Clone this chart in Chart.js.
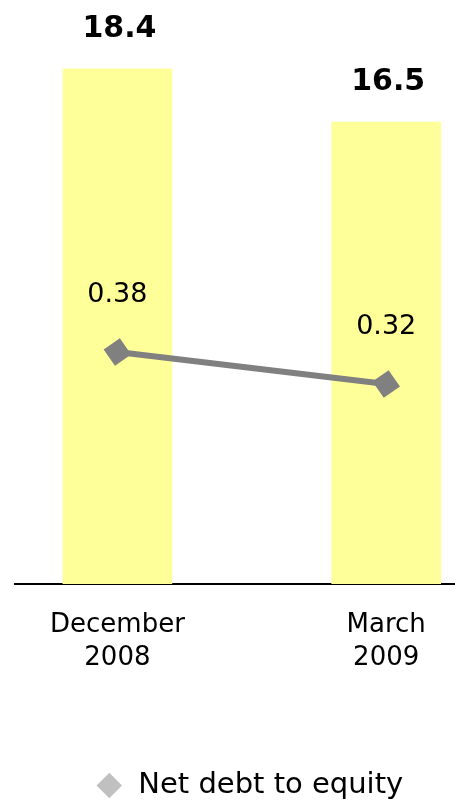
<!DOCTYPE html>
<html>
<head>
<meta charset="utf-8">
<script src="https://cdn.jsdelivr.net/npm/chart.js@4/dist/chart.umd.min.js"></script>
<style>
  html, body { margin: 0; padding: 0; background: #fff; }
  #wrap { width: 455px; height: 801px; }
</style>
</head>
<body>
<div id="wrap"><canvas id="chart"></canvas></div>
<script>
// Categories (two-line tick labels)
const categories = [['December', '2008'], ['March', '2009']];
// Bar series (values above bars)
const barValues = [18.4, 16.5];
// Line series
const lineLabel = 'Net debt to equity';
const lineValues = [0.38, 0.32];

const FONT = '"DejaVu Sans", Verdana, sans-serif';

// simple value labels drawn from element positions
const valueLabels = {
    id: 'valueLabels',
    afterDatasetsDraw(chart) {
        const ctx = chart.ctx;
        ctx.save();
        ctx.fillStyle = '#000';
        ctx.textAlign = 'center';
        ctx.textBaseline = 'alphabetic';
        chart.data.datasets.forEach((ds, i) => {
            const meta = chart.getDatasetMeta(i);
            meta.data.forEach((el, j) => {
                const v = ds.data[j].y;
                if (ds.type === 'bar') {
                    ctx.font = 'bold 30px ' + FONT;
                    ctx.fillText(v.toFixed(1), el.x + 2, el.y - 32);
                } else {
                    ctx.font = '27px ' + FONT;
                    ctx.fillText(v.toFixed(2), el.x, el.y - 50);
                }
            });
        });
        ctx.restore();
    }
};

// nudge the legend a little to the right, like the original
const legendShift = {
    id: 'legendShift',
    afterLayout(chart) {
        chart.legend.left += 14;
        chart.legend.right += 14;
    }
};

const ctx = document.getElementById('chart').getContext('2d');
const chart = new Chart(ctx, {
    data: {
        datasets: [{
            type: 'line',
            label: lineLabel,
            data: lineValues.map((v, i) => ({ x: i, y: v })),
            yAxisID: 'y1',
            borderColor: '#808080',
            backgroundColor: '#808080',
            borderWidth: 6,
            pointStyle: 'rectRot',
            pointRadius: 14,
            pointRotation: 10,
            pointBorderWidth: 0,
            pointBackgroundColor: '#808080',
            order: 0
        }, {
            type: 'bar',
            label: 'Bars',
            data: barValues.map((v, i) => ({ x: i, y: v })),
            yAxisID: 'y',
            backgroundColor: '#FFFF99',
            borderWidth: 0,
            barThickness: 109,
            order: 1
        }]
    },
    options: {
        responsive: true,
        maintainAspectRatio: false,
        animation: false,
        layout: { autoPadding: false, padding: { top: 24, left: 15, right: 0, bottom: -9 } },
        plugins: {
            tooltip: { enabled: false },
            legend: {
                position: 'bottom',
                labels: {
                    usePointStyle: true,
                    boxWidth: 29,
                    boxHeight: 18,
                    color: '#000',
                    font: { family: FONT, size: 29 },
                    padding: 2,
                    filter: item => item.datasetIndex === 0,
                    generateLabels: chart => Chart.defaults.plugins.legend.labels.generateLabels(chart).map(l => ({
                        ...l, fillStyle: '#C0C0C0', strokeStyle: '#C0C0C0', lineWidth: 0, pointStyle: 'rectRot', rotation: 0
                    }))
                }
            }
        },
        scales: {
            x: {
                type: 'linear',
                offset: false,
                min: -0.381,
                max: 1.256,
                grid: { display: false, drawTicks: false, offset: false },
                border: { display: true, color: '#000', width: 2 },
                afterBuildTicks: s => { s.ticks = categories.map((c, i) => ({ value: i })); },
                afterFit: s => { s.height = 185; },
                ticks: {
                    padding: 24,
                    color: '#000',
                    maxRotation: 0,
                    font: { family: FONT, size: 26, lineHeight: 1.3 },
                    callback: v => categories[v]
                }
            },
            y: { display: false, min: 0, max: 20 },
            y1: { display: false, min: -0.055, max: 0.995 }
        }
    },
    plugins: [valueLabels, legendShift]
});
</script>
</body>
</html>
